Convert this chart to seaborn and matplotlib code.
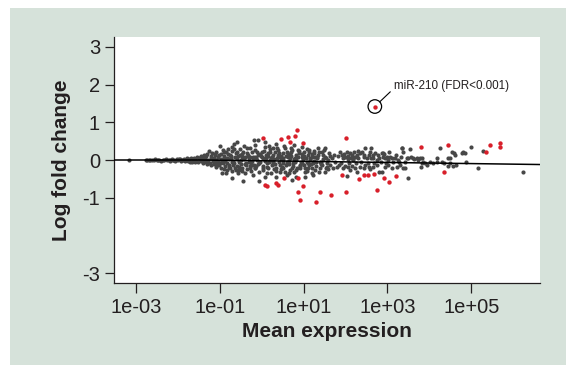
import matplotlib
matplotlib.use("Agg")
import matplotlib.pyplot as plt
from matplotlib.patches import Rectangle
from matplotlib.ticker import NullLocator
import pandas as pd
import seaborn as sns

# ---------------- data (log10 mean expression, log fold change) ----------------
flat_band = [
    (-3.17, 0.00), (-2.77, 0.01), (-2.73, 0.00), (-2.70, -0.01), (-2.66, 0.01), (-2.62, 0.00),
    (-2.58, -0.01), (-2.55, 0.02), (-2.51, 0.00), (-2.47, -0.01), (-2.44, 0.01), (-2.40, -0.02),
    (-2.36, 0.01), (-2.33, 0.00), (-2.29, 0.02), (-2.25, -0.01), (-2.22, 0.01), (-2.18, -0.02),
    (-2.14, 0.02), (-2.11, 0.00), (-2.07, -0.02), (-2.03, 0.03), (-2.00, -0.01), (-1.96, 0.02),
    (-1.93, -0.03), (-1.89, 0.01), (-1.86, 0.03), (-1.82, -0.02), (-1.79, 0.04), (-1.76, -0.03),
    (-1.73, 0.02), (-1.70, -0.04), (-2.20, -0.01), (-2.12, 0.01), (-2.05, 0.00), (-1.98, 0.02),
    (-1.91, -0.01), (-1.84, 0.00), (-1.78, -0.01), (-1.74, 0.01), (-1.68, 0.05), (-1.66, -0.05),
]
rise_upper = [
    (-1.62, 0.06), (-1.55, 0.08), (-1.50, 0.05), (-1.46, 0.10), (-1.42, 0.04), (-1.38, 0.12),
    (-1.35, 0.07), (-1.30, 0.15), (-1.25, 0.25), (-1.22, 0.10), (-1.18, 0.18), (-1.15, 0.05),
    (-1.12, 0.13), (-1.08, 0.22), (-1.04, 0.08), (-1.00, 0.38), (-0.97, 0.15), (-0.93, 0.27),
    (-0.90, 0.10), (-0.86, 0.20), (-0.82, 0.06), (-0.80, 0.30), (-0.76, 0.12), (-0.72, 0.24),
    (-0.70, 0.35), (-0.66, 0.42), (-0.62, 0.18), (-0.58, 0.47), (-0.56, 0.10), (-0.52, 0.28),
    (-0.48, 0.15), (-0.44, 0.22), (-0.40, 0.07), (-0.36, 0.32), (-0.33, 0.14), (-0.28, 0.33),
    (-0.24, 0.20), (-0.20, 0.09), (-0.18, 0.52), (-0.17, 0.26),
]
rise_lower = [
    (-1.60, -0.04), (-1.52, -0.06), (-1.45, -0.03), (-1.40, -0.08), (-1.34, -0.05), (-1.30, -0.11),
    (-1.24, -0.07), (-1.20, -0.14), (-1.15, -0.10), (-1.10, -0.18), (-1.06, -0.05), (-1.02, -0.12),
    (-0.98, -0.22), (-0.94, -0.35), (-0.92, -0.08), (-0.88, -0.16), (-0.85, -0.35), (-0.83, -0.26),
    (-0.78, -0.12), (-0.75, -0.20), (-0.72, -0.30), (-0.70, -0.49), (-0.66, -0.08), (-0.64, -0.22),
    (-0.60, -0.15), (-0.57, -0.35), (-0.55, -0.27), (-0.50, -0.10), (-0.46, -0.20), (-0.44, -0.56),
    (-0.40, -0.35), (-0.38, -0.14), (-0.34, -0.25), (-0.31, -0.06), (-0.28, -0.17), (-0.25, -0.30),
    (-0.21, -0.40), (-0.19, -0.12), (-0.17, -0.22),
]
rise_center = [
    (-1.58, 0.01), (-1.48, -0.01), (-1.36, 0.02), (-1.27, 0.00), (-1.17, -0.02), (-1.08, 0.01),
    (-0.96, 0.03), (-0.87, -0.02), (-0.78, 0.02), (-0.68, -0.03), (-0.58, 0.03), (-0.49, -0.01),
    (-0.42, 0.02), (-0.30, 0.04), (-0.22, -0.03), (-0.95, -0.06), (-0.90, 0.05), (-0.84, -0.08),
    (-0.74, 0.06), (-0.69, -0.12), (-0.63, 0.08), (-0.53, -0.05), (-0.46, 0.09), (-0.37, -0.07),
    (-0.32, 0.10), (-0.26, -0.09), (-0.20, 0.04), (-1.05, -0.02),
]
rise_extra = [
    (-1.65, 0.02), (-1.56, -0.02), (-1.44, 0.07), (-1.39, -0.03), (-1.33, 0.10), (-1.28, -0.08),
    (-1.21, 0.04), (-1.13, -0.06), (-1.11, 0.16), (-1.07, -0.14), (-1.01, 0.12), (-0.99, -0.09),
    (-0.91, 0.20), (-0.89, -0.25), (-0.81, 0.15), (-0.79, -0.18), (-0.73, 0.10), (-0.71, -0.06),
    (-0.67, 0.28), (-0.61, -0.27), (-0.59, 0.22), (-0.54, -0.18), (-0.51, 0.12), (-0.47, -0.30),
    (-0.43, 0.38), (-0.41, -0.10), (-0.35, 0.18), (-0.29, -0.20), (-0.27, 0.07), (-0.23, -0.14),
]
mid_upper = [
    (-0.16, 0.40), (-0.08, 0.53), (0.09, 0.49), (0.08, 0.35), (0.20, 0.28), (0.28, 0.31),
    (0.35, 0.42), (0.37, 0.33), (0.56, 0.31), (0.61, 0.22), (0.72, 0.27), (0.87, 0.27),
    (1.02, 0.22), (1.14, 0.27), (1.21, 0.15), (1.35, 0.33), (1.51, 0.33), (1.47, 0.13),
    (1.27, 0.09), (1.11, 0.13), (0.95, 0.09), (0.83, 0.13), (0.68, 0.15), (0.52, 0.18),
    (0.40, 0.13), (0.28, 0.13), (0.16, 0.18), (0.00, 0.22), (-0.08, 0.13), (-0.16, 0.09),
]
mid_center = [
    (-0.12, 0.00), (-0.04, -0.04), (0.04, 0.04), (0.12, -0.09), (0.20, 0.00), (0.28, -0.04),
    (0.36, 0.04), (0.44, -0.12), (0.52, 0.00), (0.60, -0.06), (0.68, 0.04), (0.75, -0.09),
    (0.83, 0.00), (0.91, -0.12), (0.99, 0.03), (1.07, -0.04), (1.15, 0.00), (1.23, -0.09),
    (1.31, 0.04), (1.39, -0.04), (1.47, 0.03), (1.55, -0.09), (1.59, 0.00),
    (-0.14, 0.06), (-0.06, -0.08), (0.00, 0.07), (0.07, -0.02), (0.15, 0.10), (0.18, -0.06),
    (0.23, 0.05), (0.32, -0.10), (0.38, 0.09), (0.46, 0.02), (0.50, -0.08), (0.57, 0.10),
    (0.64, -0.02), (0.71, 0.11), (0.79, -0.06), (0.86, 0.07), (0.95, -0.09), (1.01, 0.11),
    (1.10, -0.08), (1.19, 0.08), (1.26, -0.03), (1.34, 0.12), (1.41, -0.10), (1.50, 0.07),
]
mid_lower = [
    (-0.16, -0.22), (-0.06, -0.31), (0.04, -0.27), (0.12, -0.18), (0.22, -0.35), (0.30, -0.24),
    (0.33, -0.44), (0.44, -0.31), (0.52, -0.22), (0.60, -0.40), (0.68, -0.27), (0.78, -0.31),
    (0.81, -0.44), (0.91, -0.22), (1.03, -0.31), (1.11, -0.22), (1.21, -0.35), (1.27, -0.27),
    (1.39, -0.22), (1.51, -0.31), (1.59, -0.24), (-0.06, -0.56), (0.08, -0.44), (0.72, -0.53),
    (1.03, -0.44), (1.23, -0.40),
]
mid_fill = [
    (-0.12, 0.20), (-0.10, -0.10), (-0.02, 0.10), (0.02, -0.15), (0.06, 0.25), (0.10, 0.05),
    (0.14, -0.20), (0.18, 0.38), (0.24, 0.08), (0.26, -0.10), (0.31, 0.20), (0.34, -0.30),
    (0.39, 0.26), (0.42, -0.05), (0.47, 0.10), (0.49, -0.18), (0.54, 0.36), (0.58, -0.12),
    (0.63, 0.08), (0.66, -0.35), (0.70, 0.20), (0.74, -0.15), (0.77, 0.40), (0.80, 0.06),
    (0.85, -0.20), (0.89, 0.18), (0.93, -0.05), (0.97, 0.35), (1.00, -0.14), (1.05, 0.05),
    (1.09, -0.28), (1.13, 0.20), (1.17, -0.10), (1.25, 0.25), (1.29, -0.15), (1.33, 0.07),
    (1.37, -0.32), (1.43, 0.20), (1.45, -0.12), (1.53, 0.06), (1.57, -0.18), (1.62, 0.10),
]
mid_extra = [
    (-0.13, -0.16), (-0.03, 0.16), (0.03, -0.21), (0.11, 0.14), (0.13, -0.35), (0.21, 0.22),
    (0.25, -0.14), (0.29, 0.02), (0.35, -0.20), (0.41, 0.18), (0.45, -0.25), (0.51, 0.05),
    (0.55, -0.33), (0.62, 0.15), (0.65, -0.10), (0.69, 0.32), (0.73, -0.22), (0.76, 0.03),
    (0.82, -0.27), (0.88, 0.23), (0.92, -0.16), (0.96, 0.15), (1.04, -0.20), (1.08, 0.29),
    (1.12, -0.13), (1.16, 0.06), (1.20, -0.22), (1.24, 0.18), (1.30, -0.05), (1.36, 0.22),
    (1.42, -0.06), (1.48, 0.26), (1.54, -0.22), (1.60, 0.18),
]
high_upper = [
    (1.73, 0.13), (1.87, 0.22), (1.91, 0.13), (1.93, 0.04), (1.96, 0.15), (1.99, 0.09),
    (2.03, 0.22), (2.07, 0.11), (2.11, 0.18), (2.12, 0.04), (2.15, 0.13), (2.19, 0.00),
    (2.23, 0.09), (2.20, 0.22), (2.27, 0.13), (2.31, 0.04), (2.35, 0.18), (2.39, 0.22),
    (2.43, 0.13), (2.47, 0.31), (2.51, 0.04), (2.55, 0.13), (2.58, 0.22), (2.62, 0.31),
    (2.65, 0.13), (2.66, 0.04), (2.70, 0.18), (2.74, 0.00), (2.81, 0.04), (2.86, 0.18),
    (2.90, 0.09), (2.94, 0.04), (2.98, 0.09), (3.02, 0.00), (3.06, 0.09), (3.10, 0.04),
    (3.18, 0.04), (3.26, 0.00), (3.34, 0.31), (3.38, 0.22),
]
high_lower = [
    (1.63, -0.13), (1.71, -0.22), (1.79, -0.18), (1.85, -0.12), (1.95, -0.22), (1.99, -0.15),
    (2.07, -0.18), (2.11, -0.27), (2.15, -0.15), (2.23, -0.22), (2.27, -0.31), (2.35, -0.18),
    (2.43, -0.22), (2.47, -0.13), (2.55, -0.18), (2.58, -0.24), (2.66, -0.18), (2.74, -0.13),
    (2.81, -0.33), (2.86, -0.31), (2.94, -0.18), (3.02, -0.13), (3.10, -0.20), (3.22, -0.18),
    (3.30, -0.13), (3.38, -0.22), (2.04, -0.42),
]
high_extra = [
    (1.68, 0.05), (1.76, -0.05), (1.82, 0.10), (1.89, -0.08), (2.05, 0.02), (2.09, -0.09),
    (2.17, 0.06), (2.25, -0.07), (2.29, 0.25), (2.37, -0.05), (2.45, 0.07), (2.53, -0.09),
    (2.60, 0.06), (2.68, -0.07), (2.78, 0.12), (2.84, -0.06), (2.92, 0.15), (2.96, -0.09),
    (3.04, 0.20), (3.14, -0.06), (3.20, 0.12), (3.28, -0.05), (3.32, 0.08),
]
top_range = [
    (3.42, -0.04), (3.46, 0.04), (3.50, 0.06), (3.54, 0.28), (3.56, 0.09), (3.60, 0.04),
    (3.64, 0.03), (3.70, 0.04), (3.74, 0.00), (3.78, 0.04), (3.80, -0.18), (3.82, -0.09),
    (3.83, 0.04), (3.86, -0.04), (3.90, -0.09), (3.94, -0.13), (4.02, -0.06), (4.10, -0.09),
    (4.18, 0.06), (4.18, -0.06), (4.25, 0.31), (4.30, -0.06), (4.36, -0.09), (4.44, -0.15),
    (4.45, 0.04), (4.49, 0.06), (4.49, -0.09), (4.53, 0.22), (4.56, -0.16), (4.60, 0.18),
    (4.61, 0.13), (4.63, -0.12), (4.77, 0.18), (4.81, 0.22), (4.85, 0.18), (4.87, -0.06),
    (4.99, 0.35), (5.17, -0.22), (3.50, -0.49), (3.42, -0.20), (5.27, 0.25), (6.24, -0.32),
    (2.89, 0.18), (3.36, 0.31),
]
sig_up = [
    (0.02, 0.58), (0.45, 0.56), (0.62, 0.60), (0.68, 0.48), (0.80, 0.65), (0.84, 0.79),
    (0.98, 0.46), (2.01, 0.58), (3.79, 0.34), (4.45, 0.39), (5.35, 0.22), (5.44, 0.39),
    (5.69, 0.44), (5.69, 0.34),
]
sig_down = [
    (0.08, -0.66), (0.13, -0.69), (0.33, -0.62), (0.40, -0.67), (0.53, -0.48), (0.86, -0.48),
    (0.99, -0.68), (0.86, -0.85), (0.91, -1.05), (1.38, -0.86), (1.29, -1.11), (1.66, -0.92),
    (2.01, -0.86), (1.91, -0.41), (2.32, -0.50), (2.43, -0.40), (2.54, -0.41), (2.69, -0.37),
    (2.75, -0.79), (2.93, -0.49), (3.04, -0.59), (3.21, -0.42), (4.34, -0.31),
]
mir210 = (2.70, 1.42)
mir210_label = "miR-210 (FDR<0.001)"

trend_logmean = [-3.525, -1.5, 0.0, 1.0, 2.0, 3.0, 4.0, 5.0, 6.642]
trend_lfc = [0.0, 0.0, -0.02, -0.035, -0.05, -0.065, -0.08, -0.095, -0.12]

x_tick_exponents = [-3, -1, 1, 3, 5]
x_tick_labels = ["1e-03", "1e-01", "1e+01", "1e+03", "1e+05"]
y_ticks = [-3, -1, 0, 1, 2, 3]
y_tick_labels = ["-3", "-1", "0", "1", "2", "3"]

# ---------------- styling ----------------
sns.set_style("ticks")
plt.rcParams["font.family"] = ["Liberation Sans", "DejaVu Sans"]
BG = "#d6e2da"
INK = "#231f20"
GRAY = "#474747"
RED = "#d81f2a"


def to_frame(points):
    df = pd.DataFrame(points, columns=["log_mean", "lfc"])
    df["mean"] = 10.0 ** df["log_mean"]
    return df


gray_df = to_frame(flat_band + rise_upper + rise_lower + rise_center + rise_extra +
                   mid_upper + mid_center + mid_lower + mid_fill + mid_extra +
                   high_upper + high_lower + high_extra + top_range)
red_df = to_frame(sig_up + sig_down + [mir210])
mir_df = to_frame([mir210])
trend_df = pd.DataFrame({"mean": [10.0 ** v for v in trend_logmean], "lfc": trend_lfc})

W, H = 566, 365
fig = plt.figure(figsize=(W / 100, H / 100), dpi=100)
fig.patch.set_facecolor("white")
fig.add_artist(Rectangle((10 / W, 0), 1 - 10 / W, 1 - 8 / H, transform=fig.transFigure,
                         facecolor=BG, edgecolor="none", zorder=-5))

ax = fig.add_axes([114 / W, 1 - 283 / H, 426 / W, 246 / H])
ax.set_facecolor("white")

sns.scatterplot(data=gray_df, x="mean", y="lfc", ax=ax, color=GRAY, s=9,
                linewidth=0, zorder=2, legend=False)
sns.scatterplot(data=red_df, x="mean", y="lfc", ax=ax, color=RED, s=10,
                linewidth=0, zorder=3, legend=False)
sns.lineplot(data=trend_df, x="mean", y="lfc", ax=ax, color="black", lw=1.1,
             sort=False, estimator=None, zorder=4)
sns.scatterplot(data=mir_df, x="mean", y="lfc", ax=ax, s=95, facecolor="none",
                edgecolor="black", linewidth=0.9, zorder=5, legend=False)

ax.annotate(mir210_label, xy=(10.0 ** mir210[0], mir210[1]), xytext=(13.5, 15),
            textcoords="offset points", fontsize=8.4, ha="left", va="center", color=INK,
            arrowprops=dict(arrowstyle="-", color="black", lw=0.8, shrinkA=0, shrinkB=4.8,
                            relpos=(0, 0.25)))

ax.set_xscale("log")
ax.set_xlim(10.0 ** -3.525, 10.0 ** 6.642)
ax.set_ylim(-3.265, 3.265)
ax.set_xticks([10.0 ** e for e in x_tick_exponents])
ax.set_xticklabels(x_tick_labels)
ax.xaxis.set_minor_locator(NullLocator())
ax.set_yticks(y_ticks)
ax.set_yticklabels(y_tick_labels)

ax.tick_params(axis="x", length=7, width=0.9, pad=3.5, labelsize=14.5, colors=INK)
ax.tick_params(axis="y", length=6.5, width=0.9, pad=3.5, labelsize=14.5, colors=INK)
for side in ("top", "right"):
    ax.spines[side].set_visible(False)
for side in ("left", "bottom"):
    ax.spines[side].set_linewidth(0.9)
    ax.spines[side].set_color(INK)

ax.set_xlabel("Mean expression", fontsize=15, fontweight="bold", color=INK)
ax.set_ylabel("Log fold change", fontsize=15, fontweight="bold", color=INK)
ax.xaxis.label.set_va("center")
ax.yaxis.label.set_va("center")
ax.xaxis.set_label_coords(0.5, -0.199)
ax.yaxis.set_label_coords(-0.124, 0.5)

fig.savefig("out.png", dpi=100)
